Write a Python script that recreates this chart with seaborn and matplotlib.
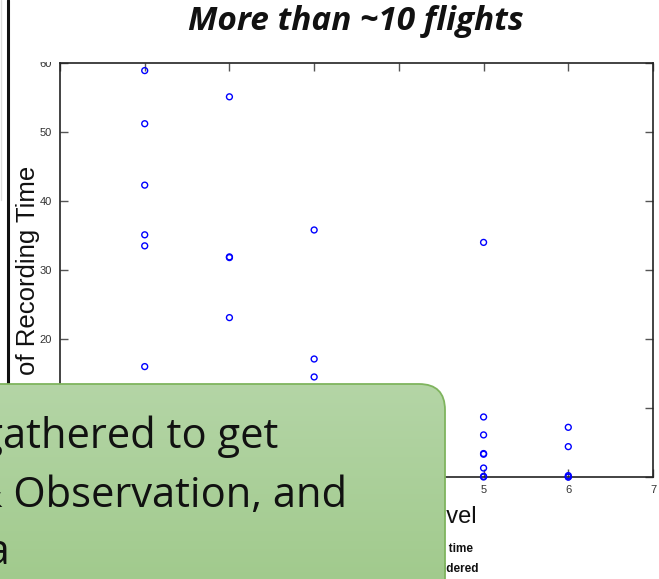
import numpy as np
import pandas as pd
import seaborn as sns
import matplotlib
matplotlib.use("Agg")
import matplotlib.pyplot as plt
from matplotlib.patches import FancyBboxPatch, Rectangle
from matplotlib.lines import Line2D
from matplotlib.colors import LinearSegmentedColormap

# ---- data ----
level = [1, 1, 1, 1, 1, 1,
         2, 2, 2, 2,
         3, 3, 3,
         5, 5, 5, 5, 5, 5, 5, 5,
         6, 6, 6, 6, 6]
pct_time = [58.9, 51.2, 42.3, 35.1, 33.5, 16.0,
            55.1, 31.9, 31.8, 23.1,
            35.8, 17.1, 14.5,
            34.0, 8.7, 6.1, 3.4, 3.3, 1.3, 0.1, 0.0,
            7.2, 4.4, 0.2, 0.0, 0.0]
x_ticks = [0, 1, 2, 3, 4, 5, 6, 7]
x_tick_labels = ["", "", "", "", "", "5", "6", "7"]   # 0-4 lie under the callout
y_ticks = [0, 10, 20, 30, 40, 50, 60]
y_tick_labels = ["", "", "20", "30", "40", "50", "60"]  # 0,10 lie under the callout
title = "More than ~10 flights"
x_label = "Activity Level"
y_label = "% of Recording Time"
note_lines = ["* Percent of total recording time", "flights with fewer not considered"]
callout_lines = ["Data was gathered to get", "Interview & Observation, and", "data"]

df = pd.DataFrame({"level": level, "pct": pct_time})

sns.set_theme(style="white")
plt.rcParams["font.family"] = ["Liberation Sans", "DejaVu Sans"]

W, H = 659, 579
fig = plt.figure(figsize=(W / 100, H / 100), dpi=100)
ax = fig.add_axes([60 / W, 1 - 477 / H, 593 / W, 414 / H])

sns.scatterplot(data=df, x="level", y="pct", ax=ax, marker="o", s=18,
                facecolors="none", edgecolor="#0000ff", linewidth=1.0,
                legend=False, clip_on=False, zorder=3)

ax.set_xlim(0, 7)
ax.set_ylim(0, 60)
ax.set_xticks(x_ticks, x_tick_labels)
ax.set_yticks(y_ticks, y_tick_labels)
ax.set_xlabel("")
ax.set_ylabel("")
ax.tick_params(direction="in", length=6, width=1, colors="#555555",
               labelcolor="#333333", labelsize=8, top=True, right=True,
               bottom=True, left=True, pad=6)
for s in ax.spines.values():
    s.set_color("#222222")
    s.set_linewidth(1.2)

# overlay axes in pixel space for slide decorations
ov = fig.add_axes([0, 0, 1, 1], zorder=10)
ov.axis("off")
ov.patch.set_alpha(0)

# white cover at top (title text box) clipping the "60" label
ov.add_patch(Rectangle((12, -5), W, 66.5, facecolor="white", edgecolor="none", zorder=1))
ov.text(356, 22, title, ha="center", va="center", fontsize=24,
        fontweight="bold", fontstyle="italic", family=["Open Sans", "DejaVu Sans"],
        color="#111111", zorder=2)

# slide lines at left
ov.add_line(Line2D([1, 1], [0, 200], color="#dddddd", lw=1, zorder=1))
ov.add_line(Line2D([8, 8], [0, 400], color="#111111", lw=2.2, zorder=1))

# axis labels (partly hidden by the callout)
ov.text(28, 166, y_label, rotation=90, ha="center", va="top", fontsize=18.5,
        color="#111111", zorder=1)
ov.text(477, 523, x_label, ha="right", va="baseline", fontsize=17,
        color="#111111", zorder=1)
ov.text(473, 552, note_lines[0], ha="right", va="baseline", fontsize=8.5,
        fontweight="bold", color="#111111", zorder=1)
ov.text(479, 572, note_lines[1], ha="right", va="baseline", fontsize=8.5,
        fontweight="bold", color="#111111", zorder=1)

# green callout box with vertical gradient
box = FancyBboxPatch((-40, 384), 485, 220,
                     boxstyle="round,pad=0,rounding_size=26",
                     facecolor="none", edgecolor="#7fb45e", lw=1.3, zorder=5)
ov.add_patch(box)
grad = np.linspace(0, 1, 256).reshape(-1, 1)
cmap = LinearSegmentedColormap.from_list("g", ["#b4d5a6", "#9fc98a"])
im = ov.imshow(grad, cmap=cmap, extent=(-40, 445, 604, 384), aspect="auto",
               zorder=4, interpolation="bilinear")
clip = FancyBboxPatch((-40, 384), 485, 220,
                      boxstyle="round,pad=0,rounding_size=26",
                      facecolor="none", edgecolor="none", transform=ov.transData)
im.set_clip_path(clip)
ov.set_xlim(0, W)
ov.set_ylim(H, 0)

cfont = ["Open Sans", "DejaVu Sans"]
ov.text(278, 448, callout_lines[0], ha="right", va="baseline", fontsize=30,
        family=cfont, color="#111111", zorder=6)
ov.text(347, 507, callout_lines[1], ha="right", va="baseline", fontsize=30,
        family=cfont, color="#111111", zorder=6)
ov.text(10, 564, callout_lines[2], ha="right", va="baseline", fontsize=30,
        family=cfont, color="#111111", zorder=6)

fig.savefig("out.png", dpi=100)
